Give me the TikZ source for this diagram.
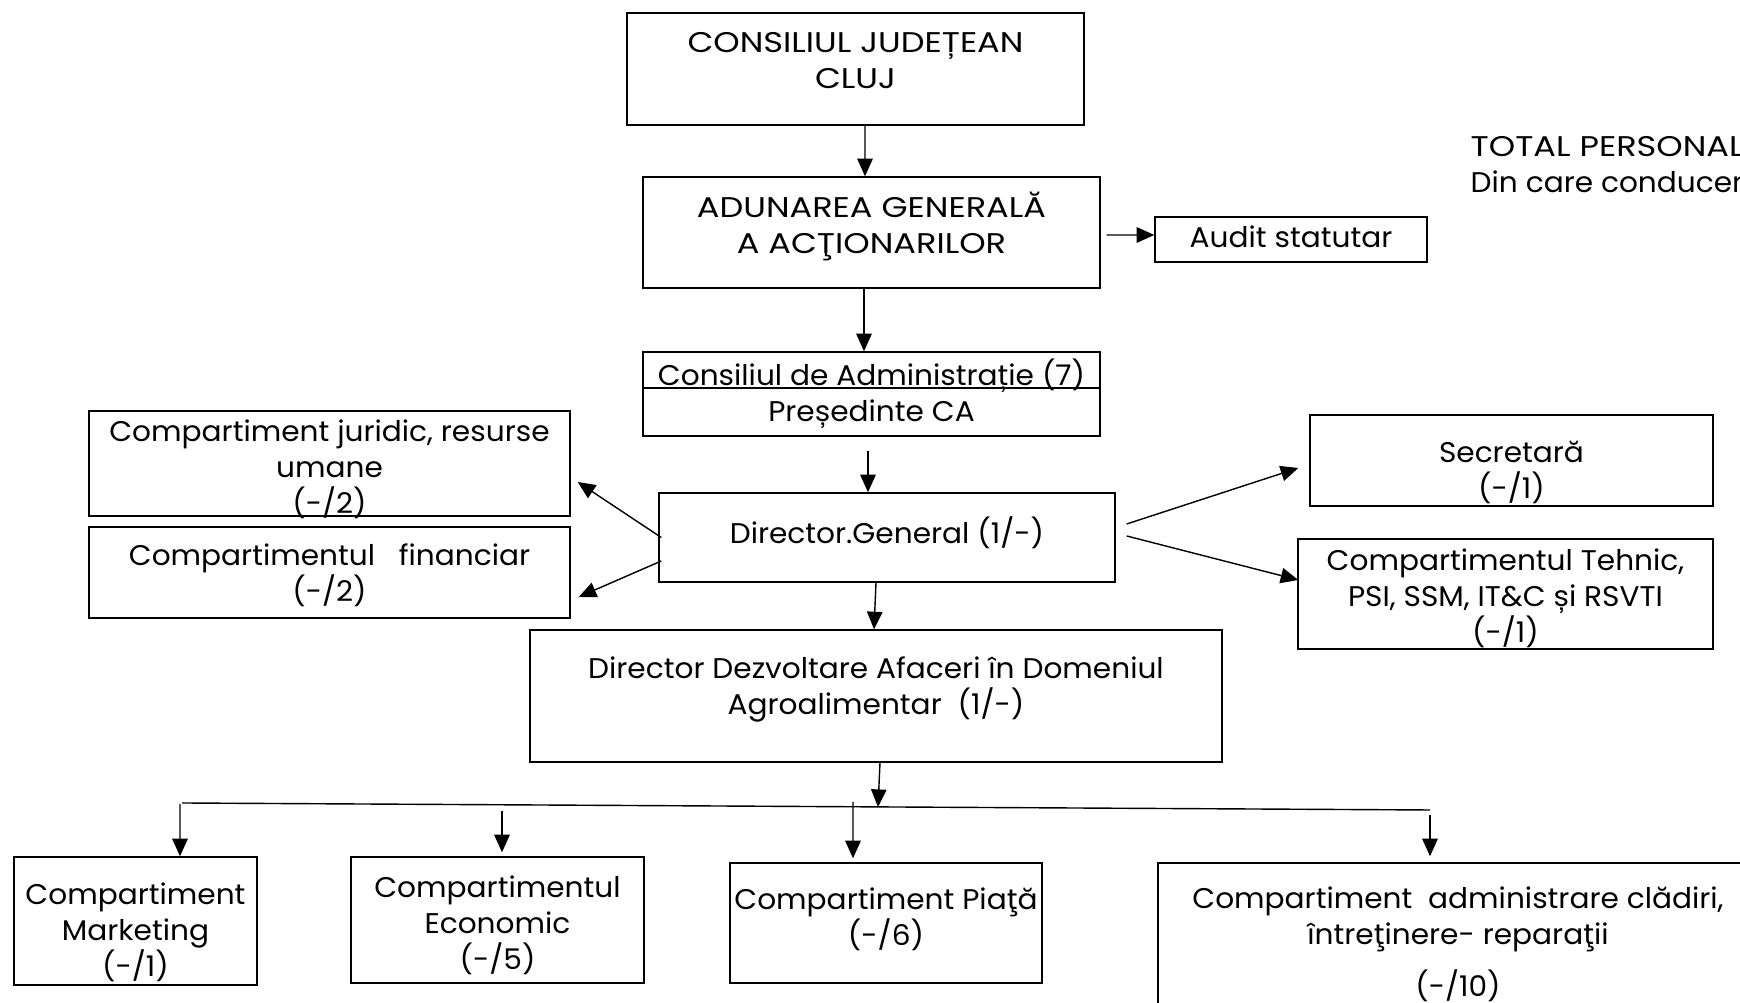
\documentclass[tikz,border=0pt]{standalone}
\usepackage{fontspec}
\setmainfont[FakeStretch=1.04]{Poppins}
\newfontfamily\capsfont[FakeStretch=1.18]{Poppins}
\usetikzlibrary{arrows.meta}
\newcommand{\tsa}{\rule{0pt}{8.4pt}}
\newcommand{\tsb}{\rule[-2.6pt]{0pt}{2.6pt}}

\begin{document}
\begin{tikzpicture}[line width=0.4pt,
        box/.style={draw, rectangle, inner sep=0pt},
        txt/.style={align=center, inner sep=0pt, font=\fontsize{8.1}{10.24}\selectfont},
        capstxt/.style={txt, font=\capsfont\fontsize{8.1}{10.24}\selectfont},
        arr/.style={-{Triangle[length=5pt,width=4.4pt]}}]

        \path[use as bounding box, clip] (0,0) rectangle (17.40,-10.03);

        %===========================
        % Top levels
        %===========================

        \draw node (cjc) at (8.555,-0.69) [box, minimum width=4.57cm, minimum height=1.12cm]{};
        \node (cjct) at (8.555,-0.60) [capstxt] {\tsa CONSILIUL JUDEȚEAN\\CLUJ\tsb};

        \draw node (aga) at (8.715,-2.325) [box, minimum width=4.57cm, minimum height=1.11cm]{};
        \node (agat) at (8.715,-2.25) [capstxt] {\tsa ADUNAREA GENERALĂ\\A ACŢIONARILOR\tsb};
        \draw[arr] ([xshift=0.095cm]cjc.south) to ([xshift=-0.065cm]aga.north);

        \draw node (aud) at (12.91,-2.395) [box, minimum width=2.72cm, minimum height=0.45cm]{};
        \node (audt) at (12.91,-2.37) [txt] {\tsa Audit statutar\tsb};
        \draw[arr] ([xshift=0.06cm,yshift=-0.025cm]aga.east) to ([yshift=0.045cm]aud.west);

        \node (tot) at (14.70,-1.64) [txt, anchor=west, align=left] {\tsa{\capsfont TOTAL PERSONAL}\\Din care conducer\tsb};

        % Consiliul de administratie
        \draw node (ca) at (8.715,-3.70) [box, minimum width=4.57cm, minimum height=0.36cm]{};
        \draw node (pres) at (8.715,-4.12) [box, minimum width=4.57cm, minimum height=0.48cm]{};
        \node (cat) at (8.715,-3.75) [txt] {\tsa Consiliul de Administrație (7)\tsb};
        \node (prest) at (8.715,-4.11) [txt] {\tsa Președinte CA\tsb};
        \draw[arr] ([xshift=-0.075cm]aga.south) to ([xshift=-0.075cm]ca.north);

        %===========================
        % Director General
        %===========================

        \draw node (dg) at (8.87,-5.375) [box, minimum width=4.56cm, minimum height=0.89cm]{};
        \node (dgt) at (8.87,-5.33) [txt] {\tsa Director.General (1/-)\tsb};
        \draw[arr, shorten <=0.14cm] ([xshift=-0.035cm]pres.south) to ([xshift=-0.19cm]dg.north);

        % Left Side
        \draw node (jur) at (3.295,-4.635) [box, minimum width=4.81cm, minimum height=1.05cm]{};
        \node (jurt) at (3.295,-4.67) [txt] {\tsa Compartiment juridic, resurse\\umane\\(-/2)\tsb};
        \draw[arr] ([xshift=0.03cm]dg.west) to ([xshift=0.07cm,yshift=-0.185cm]jur.east);

        \draw node (fin) at (3.295,-5.725) [box, minimum width=4.81cm, minimum height=0.91cm]{};
        \node (fint) at (3.295,-5.735) [txt] {\tsa Compartimentul\ \ \ financiar\\(-/2)\tsb};
        \draw[arr] ([xshift=0.03cm,yshift=-0.235cm]dg.west) to ([xshift=0.08cm,yshift=-0.245cm]fin.east);

        % Right Side
        \draw node (sec) at (15.115,-4.605) [box, minimum width=4.03cm, minimum height=0.91cm]{};
        \node (sect) at (15.115,-4.70) [txt] {\tsa Secretară\\(-/1)\tsb};
        \draw[arr] ([xshift=0.11cm,yshift=0.135cm]dg.east) to ([xshift=-0.11cm,yshift=-0.075cm]sec.west);

        \draw node (teh) at (15.055,-5.94) [box, minimum width=4.15cm, minimum height=1.10cm]{};
        \node (teht) at (15.055,-5.965) [txt] {\tsa Compartimentul Tehnic,\\PSI, SSM, IT\&C și RSVTI\\(-/1)\tsb};
        \draw[arr] ([xshift=0.11cm,yshift=0.015cm]dg.east) to ([xshift=0.01cm,yshift=0.14cm]teh.west);

        %===========================
        % Director Dezvoltare
        %===========================

        \draw node (dda) at (8.76,-6.96) [box, minimum width=6.92cm, minimum height=1.32cm]{};
        \node (ddat) at (8.76,-6.865) [txt] {\tsa Director Dezvoltare Afaceri în Domeniul\\Agroalimentar\ \ (1/-)\tsb};
        \draw[arr] ([xshift=-0.11cm]dg.south) to ([xshift=-0.02cm]dda.north);

        % Bus
        \coordinate (busl) at (1.82,-8.03);
        \coordinate (busr) at (14.30,-8.10);
        \coordinate (busm) at (8.78,-8.07);
        \draw (busl) -- (busr);
        \draw[arr] ([xshift=0.04cm]dda.south) to (busm);

        %===========================
        % Compartimente
        %===========================

        \draw node (mkt) at (1.355,-9.21) [box, minimum width=2.43cm, minimum height=1.28cm]{};
        \node (mktt) at (1.355,-9.305) [txt] {\tsa Compartiment\\Marketing\\(-/1)\tsb};

        \draw node (eco) at (4.975,-9.20) [box, minimum width=2.93cm, minimum height=1.26cm]{};
        \node (ecot) at (4.975,-9.235) [txt] {\tsa Compartimentul\\Economic\\(-/5)\tsb};

        \draw node (pia) at (8.86,-9.23) [box, minimum width=3.12cm, minimum height=1.20cm]{};
        \node (piat) at (8.86,-9.17) [txt] {\tsa Compartiment Piaţă\\(-/6)\tsb};

        \draw node (adm) at (14.59,-9.415) [box, minimum width=6.02cm, minimum height=1.57cm]{};
        \node (admt) at (14.58,-9.425) [txt] {\tsa Compartiment\ \ administrare clădiri,\\întreţinere- reparaţii\\[4.5pt](-/10)\tsb};

        \coordinate (mk0) at (1.80,-8.04);
        \coordinate (ec0) at (5.02,-8.11);
        \coordinate (pi0) at (8.53,-8.02);
        \coordinate (ad0) at (14.30,-8.15);
        \draw[arr] (mk0) to ([xshift=0.445cm]mkt.north);
        \draw[arr] (ec0) to ([xshift=0.045cm,yshift=0.04cm]eco.north);
        \draw[arr] (pi0) to ([xshift=-0.33cm,yshift=0.04cm]pia.north);
        \draw[arr] (ad0) to ([xshift=-0.29cm,yshift=0.06cm]adm.north);
\end{tikzpicture}
\end{document}
